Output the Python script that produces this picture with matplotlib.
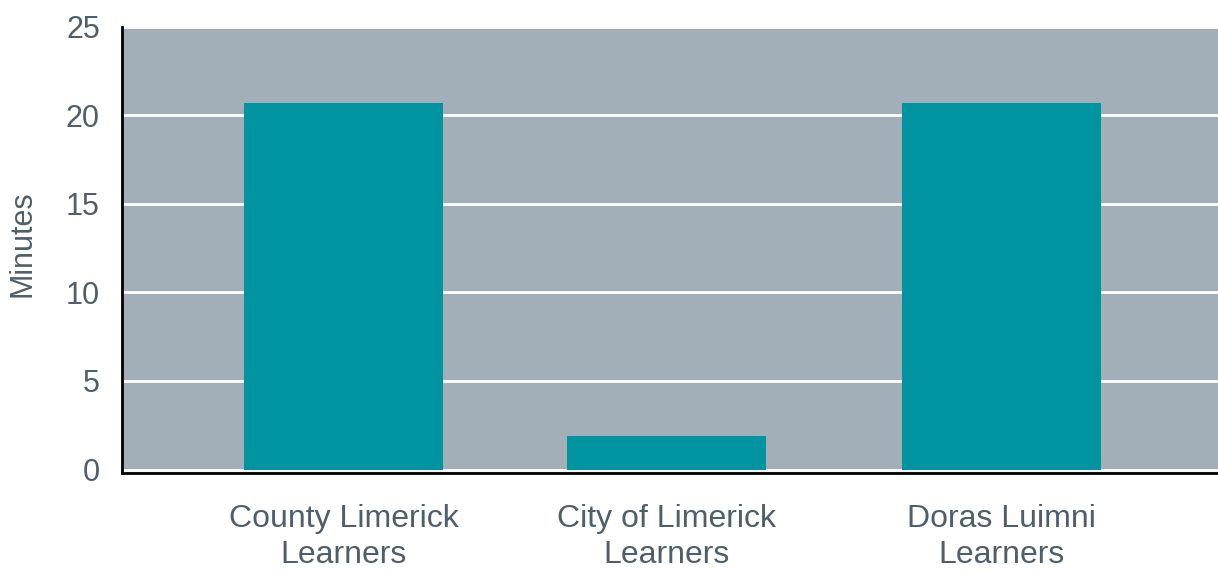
from matplotlib import pyplot as plt
import numpy as np

categories = ["County Limerick\nLearners", "City of Limerick\nLearners", "Doras Luimni\nLearners"]
minutes = [20.7, 1.9, 20.7]
yticks = [0, 5, 10, 15, 20, 25]

text_color = "#4F5E6A"
plt.rcParams['font.family'] = ['Liberation Sans', 'DejaVu Sans']

fig = plt.figure(figsize=(12.18, 5.72), dpi=100)
ax = fig.add_axes([0.1002, 0.173, 0.8998, 0.780])
ax.set_facecolor("#A3AFB8")

x = np.array([0, 0.98, 2])
ax.bar(x, minutes, width=0.605, color="#0093A0", zorder=3)

ax.set_xlim(-0.673, 2.657)
ax.set_ylim(-0.2, 25)
ax.set_yticks(yticks)
ax.set_xticks(x)
ax.set_xticklabels(categories, linespacing=1.3)
ax.yaxis.grid(True, color="white", linewidth=2, zorder=1)
ax.set_axisbelow(True)

ax.tick_params(axis='y', length=0, labelsize=22, labelcolor=text_color, pad=16)
ax.tick_params(axis='x', length=0, labelsize=23, labelcolor=text_color, pad=22)
ax.set_ylabel("Minutes", fontsize=22, color=text_color)
ax.yaxis.set_label_coords(-0.077, 0.515)

for s in ["top", "right"]:
    ax.spines[s].set_visible(False)
ax.spines["left"].set_linewidth(2)
ax.spines["bottom"].set_linewidth(2)
ax.spines["left"].set_color("black")
ax.spines["bottom"].set_color("black")

plt.savefig("out.png", dpi=100)
